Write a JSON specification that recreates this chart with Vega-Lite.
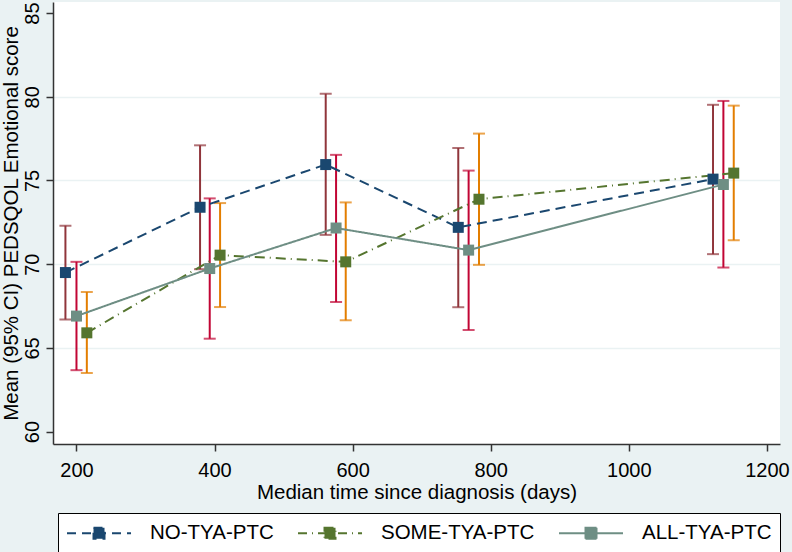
{
  "$schema": "https://vega.github.io/schema/vega-lite/v6.json",
  "width": 727,
  "height": 442,
  "autosize": {"type": "none"},
  "padding": {"left": 53, "top": 2, "right": 12, "bottom": 108},
  "background": "#eaf2f3",
  "config": {
    "view": {"fill": "white", "stroke": null},
    "font": "Liberation Sans",
    "axis": {
      "labelFont": "Liberation Sans", "titleFont": "Liberation Sans",
      "labelFontSize": 20, "titleFontSize": 20.5, "titleFontWeight": "normal",
      "labelColor": "black", "titleColor": "black",
      "domainColor": "#333333", "domainWidth": 1.5,
      "tickColor": "#333333", "tickWidth": 1.5, "tickSize": 7
    },
    "axisY": {
      "labelAngle": -90, "labelPadding": 4, "titlePadding": 1,
      "grid": true, "gridWidth": 1.5,
      "gridColor": {"condition": {"test": "datum.value === 60 || datum.value === 85", "value": "transparent"}, "value": "#eaf2f3"}
    }
  },
  "data": {
    "values": [
      {"group": "NO-TYA-PTC", "time": 184, "mean": 69.5, "lo": 66.7, "hi": 72.3},
      {"group": "NO-TYA-PTC", "time": 379, "mean": 73.4, "lo": 69.7, "hi": 77.1},
      {"group": "NO-TYA-PTC", "time": 561, "mean": 75.95, "lo": 71.75, "hi": 80.18},
      {"group": "NO-TYA-PTC", "time": 753, "mean": 72.2, "lo": 67.43, "hi": 76.94},
      {"group": "NO-TYA-PTC", "time": 1122, "mean": 75.08, "lo": 70.6, "hi": 79.52},
      {"group": "SOME-TYA-PTC", "time": 215, "mean": 65.9, "lo": 63.5, "hi": 68.34},
      {"group": "SOME-TYA-PTC", "time": 408, "mean": 70.54, "lo": 67.44, "hi": 73.65},
      {"group": "SOME-TYA-PTC", "time": 590, "mean": 70.14, "lo": 66.65, "hi": 73.69},
      {"group": "SOME-TYA-PTC", "time": 783, "mean": 73.88, "lo": 69.96, "hi": 77.8},
      {"group": "SOME-TYA-PTC", "time": 1152, "mean": 75.44, "lo": 71.43, "hi": 79.47},
      {"group": "ALL-TYA-PTC", "time": 200, "mean": 66.9, "lo": 63.67, "hi": 70.14},
      {"group": "ALL-TYA-PTC", "time": 393, "mean": 69.74, "lo": 65.55, "hi": 73.93},
      {"group": "ALL-TYA-PTC", "time": 576, "mean": 72.16, "lo": 67.74, "hi": 76.53},
      {"group": "ALL-TYA-PTC", "time": 768, "mean": 70.84, "lo": 66.07, "hi": 75.59},
      {"group": "ALL-TYA-PTC", "time": 1137, "mean": 74.76, "lo": 69.8, "hi": 79.75}
    ]
  },
  "encoding": {
    "x": {
      "field": "time", "type": "quantitative",
      "scale": {"domain": [166, 1219], "nice": false, "zero": false},
      "axis": {"values": [200, 400, 600, 800, 1000, 1200], "format": "d", "grid": false, "labelPadding": 9, "titlePadding": 2,
               "title": "Median time since diagnosis (days)"}
    }
  },
  "layer": [
    {
      "mark": {"type": "rule", "strokeWidth": 2},
      "encoding": {
        "y": {"field": "lo", "type": "quantitative", "title": "Mean (95% CI) PEDSQOL Emotional score",
          "scale": {"domain": [59.26, 85.66], "nice": false, "zero": false},
          "axis": {"values": [60, 65, 70, 75, 80, 85], "title": "Mean (95% CI) PEDSQOL Emotional score"}},
        "y2": {"field": "hi"},
        "color": {"field": "group", "type": "nominal", "legend": null,
          "scale": {"domain": ["NO-TYA-PTC", "SOME-TYA-PTC", "ALL-TYA-PTC"], "range": ["#90353b", "#e37e00", "#c10534"]}}
      }
    },
    {
      "mark": {"type": "tick", "orient": "horizontal", "size": 12, "thickness": 2},
      "encoding": {
        "y": {"field": "lo", "type": "quantitative", "title": "Mean (95% CI) PEDSQOL Emotional score"},
        "color": {"field": "group", "type": "nominal", "legend": null,
          "scale": {"domain": ["NO-TYA-PTC", "SOME-TYA-PTC", "ALL-TYA-PTC"], "range": ["#90353b", "#e37e00", "#c10534"]}}
      }
    },
    {
      "mark": {"type": "tick", "orient": "horizontal", "size": 12, "thickness": 2},
      "encoding": {
        "y": {"field": "hi", "type": "quantitative", "title": "Mean (95% CI) PEDSQOL Emotional score"},
        "color": {"field": "group", "type": "nominal", "legend": null,
          "scale": {"domain": ["NO-TYA-PTC", "SOME-TYA-PTC", "ALL-TYA-PTC"], "range": ["#90353b", "#e37e00", "#c10534"]}}
      }
    },
    {
      "layer": [
        {
          "mark": {"type": "line", "strokeWidth": 2},
          "encoding": {
            "y": {"field": "mean", "type": "quantitative", "title": "Mean (95% CI) PEDSQOL Emotional score"},
            "color": {"field": "group", "type": "nominal",
              "scale": {"domain": ["NO-TYA-PTC", "SOME-TYA-PTC", "ALL-TYA-PTC"], "range": ["#1a476f", "#55752f", "#6e8e84"]},
              "legend": {
                "orient": "none", "legendX": 5, "legendY": 511,
                "direction": "horizontal", "columns": 3, "title": null,
                "strokeColor": "black", "fillColor": "white", "padding": 8,
                "labelFont": "Liberation Sans", "labelFontSize": 20.5, "labelColor": "black",
                "symbolType": "M-1,0H4.82M1.41,-0.5H2.41V0.5H1.41Z", "symbolSize": 484, "symbolStrokeWidth": 2,
                "columnPadding": 20, "labelOffset": 60,
                "encode": {"symbols": {"update": {
                  "fill": {"signal": "datum.value === 'NO-TYA-PTC' ? '#1a476f' : datum.value === 'SOME-TYA-PTC' ? '#55752f' : '#6e8e84'"},
                  "strokeDash": {"signal": "datum.value === 'NO-TYA-PTC' ? [9, 6] : datum.value === 'SOME-TYA-PTC' ? [9, 5, 1, 5] : [1, 0]"}
                }}}
              }
            },
            "strokeDash": {"field": "group", "type": "nominal", "legend": null,
              "scale": {"domain": ["NO-TYA-PTC", "SOME-TYA-PTC", "ALL-TYA-PTC"], "range": [[10, 6], [10, 5, 1, 5], [1, 0]]}}
          }
        },
        {
          "mark": {"type": "point", "shape": "square", "filled": true, "size": 121, "opacity": 1},
          "encoding": {
            "y": {"field": "mean", "type": "quantitative", "title": "Mean (95% CI) PEDSQOL Emotional score"},
            "color": {"field": "group", "type": "nominal",
              "scale": {"domain": ["NO-TYA-PTC", "SOME-TYA-PTC", "ALL-TYA-PTC"], "range": ["#1a476f", "#55752f", "#6e8e84"]},
              "legend": null}
          }
        }
      ]
    }
  ],
  "resolve": {"scale": {"color": "independent"}, "legend": {"color": "independent"}}
}
